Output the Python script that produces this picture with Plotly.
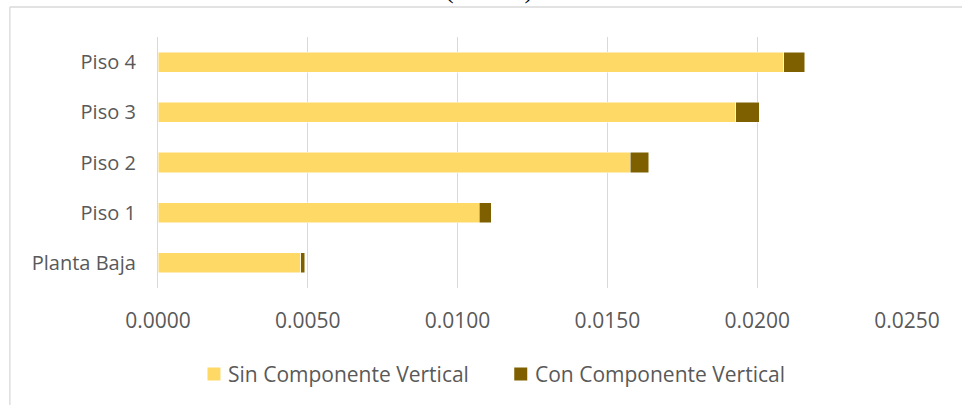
import plotly.graph_objects as go

categories = ["Planta Baja", "Piso 1", "Piso 2", "Piso 3", "Piso 4"]
sin_vertical = [0.00477, 0.01073, 0.01577, 0.01929, 0.02088]
con_vertical = [0.00013, 0.00039, 0.00061, 0.00078, 0.00070]
series_names = ["Sin Componente Vertical", "Con Componente Vertical"]
series_colors = ["#FFD966", "#7F6000"]
tick_vals = [0, 0.005, 0.01, 0.015, 0.02, 0.025]
tick_text = ["0.0000", "0.0050", "0.0100", "0.0150", "0.0200", "0.0250"]
title_text = "(Deriva)"

W, H = 962, 405
L, R, T, B = 157.5, 55, 37, 117
pw, ph = W - L - R, H - T - B

def px_x(p):
    return (p - L) / pw

def px_y(p):
    return (H - B - p) / ph

FONT = "Open Sans"
GREY = "#595959"

fig = go.Figure()
for vals, name, col in zip([sin_vertical, con_vertical], series_names, series_colors):
    fig.add_trace(go.Bar(y=categories, x=vals, name=name, orientation="h",
                         marker=dict(color=col, line=dict(color="#FFFFFF", width=0.5))))

# custom legend (square swatches + real text)
legend_sq = [(207, 220), (514, 527)]
legend_tx = [225.5, 532.5]
shapes = [
    dict(type="line", xref="paper", yref="paper", x0=px_x(9.3), x1=px_x(1100),
         y0=px_y(7), y1=px_y(7), line=dict(color="#D9D9D9", width=1.3)),
    dict(type="line", xref="paper", yref="paper", x0=px_x(9.3), x1=px_x(9.3),
         y0=px_y(7), y1=px_y(500), line=dict(color="#D9D9D9", width=1.3)),
]
annotations = [
    dict(text=title_text, xref="paper", yref="paper", x=px_x(489), y=px_y(6),
         xanchor="center", yanchor="bottom", showarrow=False,
         font=dict(family="Liberation Serif", size=26, color="#000000")),
]
for (a, b), tx, name, col in zip(legend_sq, legend_tx, series_names, series_colors):
    shapes.append(dict(type="rect", xref="paper", yref="paper", x0=px_x(a), x1=px_x(b),
                       y0=px_y(380.5), y1=px_y(367.5), fillcolor=col, line=dict(width=0)))
    annotations.append(dict(text=name, xref="paper", yref="paper", x=px_x(tx), y=px_y(374),
                            xanchor="left", yanchor="middle", showarrow=False,
                            font=dict(family=FONT, size=21, color=GREY)))

fig.update_layout(
    width=W, height=H, barmode="stack", bargap=0.6,
    margin=dict(l=L, r=R, t=T, b=B, pad=0),
    paper_bgcolor="white", plot_bgcolor="white",
    font=dict(family=FONT, size=16, color=GREY),
    showlegend=False,
    xaxis=dict(range=[0, 0.025], tickvals=tick_vals, ticktext=tick_text,
               showgrid=True, gridcolor="#D9D9D9", gridwidth=1.3, zeroline=False,
               showline=False, ticks="", ticklabelstandoff=18,
               tickfont=dict(size=21, color=GREY)),
    yaxis=dict(categoryorder="array", categoryarray=categories, showgrid=False,
               zeroline=False, showline=True, linecolor="#D9D9D9", linewidth=1.3,
               ticks="", ticklabelstandoff=17, tickfont=dict(size=20, color=GREY)),
    shapes=shapes,
    annotations=annotations,
)

fig.write_html("out.html", config={"displayModeBar": False},
               post_script="document.body.style.margin='0';")
